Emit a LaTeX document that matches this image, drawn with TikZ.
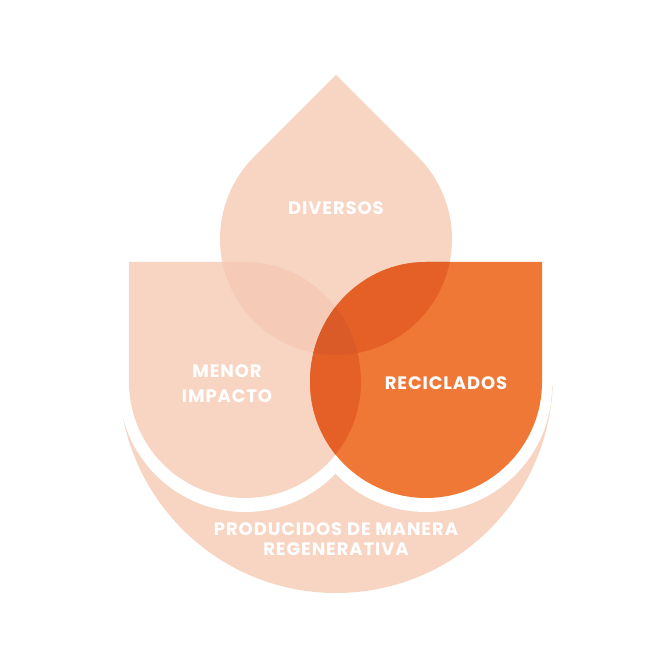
\documentclass[tikz,border=0pt]{standalone}
\usepackage{fontspec}
\setmainfont[LetterSpace=5]{Poppins}
\usepackage{tikz}
\definecolor{peach}{HTML}{F8D5C2}
\definecolor{peachdk}{HTML}{F5CBB8}
\definecolor{orng}{HTML}{EF7837}
\definecolor{orngdk}{HTML}{E56026}
\definecolor{orngdkr}{HTML}{DA5A28}
% petal outlines (1 unit = 1 px of the layout)
\newcommand{\dropshape}{(336,594) -- (253.98,512.02) arc[start angle=135, end angle=405, radius=116] -- cycle}
\newcommand{\leftshape}{(129,407) -- (245,407) arc[start angle=90, end angle=0, x radius=116, y radius=120]
  arc[start angle=0, end angle=-180, radius=116] -- cycle}
\newcommand{\rightshape}{(542,407) -- (426,407) arc[start angle=90, end angle=180, x radius=116, y radius=120]
  arc[start angle=180, end angle=360, radius=116] -- cycle}

\begin{document}
\begin{tikzpicture}[
  x=1pt, y=1pt,
  lbl/.style={text=white, font=\bfseries\fontsize{18}{25}\selectfont, align=center, inner sep=0pt},
  lbltight/.style={lbl, font=\bfseries\fontsize{18}{20}\selectfont},
]
\useasboundingbox (0,0) rectangle (669,669);
% bowl under the two petals
\begin{scope}
  \clip (0,0) rectangle (669,282);
  \fill[peach] (336,293) circle[radius=217];
  \fill[white] (245,283) circle[radius=126];
  \fill[white] (426,283) circle[radius=126];
\end{scope}
% petals
\fill[peach] \dropshape;
\fill[peach] \leftshape;
\fill[orng] \rightshape;
% overlaps
\begin{scope}
  \clip \dropshape;
  \fill[peachdk] \leftshape;
\end{scope}
\begin{scope}
  \clip \dropshape;
  \fill[orngdk] \rightshape;
\end{scope}
\begin{scope}
  \clip \leftshape;
  \fill[orngdk] \rightshape;
\end{scope}
\begin{scope}
  \clip \dropshape;
  \clip \leftshape;
  \fill[orngdkr] \rightshape;
\end{scope}
% labels
\node[lbl] (diversos) at (336,461) {DIVERSOS};
\node[lbl] (menor) at (227,285.5) {MENOR\\IMPACTO};
\node[lbl] (reciclados) at (446,286) {RECICLADOS};
\node[lbltight] (regen) at (336,130) {PRODUCIDOS DE MANERA\\REGENERATIVA};
\end{tikzpicture}
\end{document}
